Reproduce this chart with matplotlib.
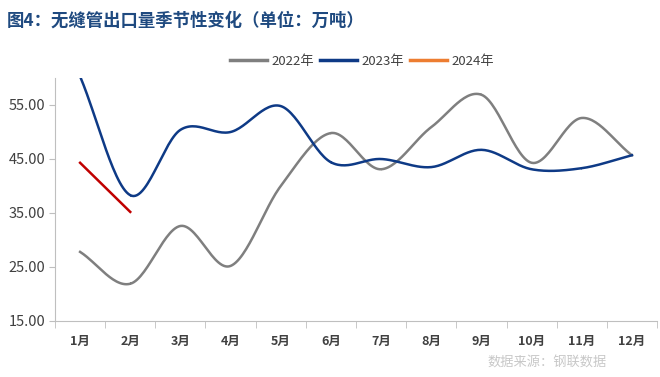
import numpy as np
import matplotlib
matplotlib.use("Agg")
import matplotlib.pyplot as plt
from matplotlib.lines import Line2D

plt.rcParams["font.family"] = ["Noto Sans CJK SC", "DejaVu Sans"]

# data
months = ["1月", "2月", "3月", "4月", "5月", "6月", "7月", "8月", "9月", "10月", "11月", "12月"]
y2022 = [27.8, 21.9, 32.6, 25.2, 40.0, 49.8, 43.1, 50.9, 56.9, 44.3, 52.6, 45.7]
y2023 = [60.3, 38.3, 50.4, 50.0, 54.8, 44.4, 45.0, 43.5, 46.7, 43.1, 43.3, 45.7]
y2024 = [44.3, 35.2]


def smooth(xs, ys, n=30):
    """Catmull-Rom curve through the points, like Excel's smoothed line."""
    xs = np.asarray(xs, float)
    ys = np.asarray(ys, float)
    if len(xs) < 3:
        return xs, ys
    px = np.concatenate([[2 * xs[0] - xs[1]], xs, [2 * xs[-1] - xs[-2]]])
    py = np.concatenate([[2 * ys[0] - ys[1]], ys, [2 * ys[-1] - ys[-2]]])
    t = np.linspace(0, 1, n)
    ox, oy = [], []
    for i in range(1, len(px) - 2):
        for p, out in ((px, ox), (py, oy)):
            p0, p1, p2, p3 = p[i - 1], p[i], p[i + 1], p[i + 2]
            out.extend(0.5 * (2 * p1 + (-p0 + p2) * t
                              + (2 * p0 - 5 * p1 + 4 * p2 - p3) * t ** 2
                              + (-p0 + 3 * p1 - 3 * p2 + p3) * t ** 3))
    return np.array(ox), np.array(oy)


fig = plt.figure(figsize=(6.6, 3.77), dpi=100)
ax = fig.add_axes([55 / 660, 56 / 377, 602 / 660, 243 / 377])

x = np.arange(1, 13)
sx, sy = smooth(x, y2022)
ax.plot(sx, sy, color="#7F7F7F", lw=1.8)
sx, sy = smooth(x, y2023)
ax.plot(sx, sy, color="#0E3A86", lw=1.8)
ax.plot(x[:len(y2024)], y2024, color="#C00000", lw=1.8)

ax.set_xlim(0.5, 12.5)
ax.set_ylim(15, 60)
ax.set_yticks([15, 25, 35, 45, 55])
ax.set_yticklabels([f"{v:.2f}" for v in [15, 25, 35, 45, 55]], fontsize=10.5, color="#404040")
ax.set_xticks(x)
ax.set_xticklabels(months, fontsize=9, fontweight="bold", color="#404040")
ax.set_xticks(np.arange(0.5, 13), minor=True)
ax.tick_params(axis="x", which="major", length=0, pad=10)
ax.tick_params(axis="x", which="minor", length=5, color="#BFBFBF")
ax.tick_params(axis="y", length=4, color="#BFBFBF", pad=3)

for side in ("top", "right"):
    ax.spines[side].set_visible(False)
for side in ("left", "bottom"):
    ax.spines[side].set_color("#BFBFBF")

handles = [Line2D([], [], color="#7F7F7F", lw=2.5),
           Line2D([], [], color="#0E3A86", lw=2.5),
           Line2D([], [], color="#ED7D31", lw=2.5)]
fig.legend(handles, ["2022年", "2023年", "2024年"], loc="center",
           bbox_to_anchor=(362 / 660, 1 - 61 / 377), ncol=3, frameon=False,
           fontsize=9.5, handlelength=2.8, handletextpad=0.3, columnspacing=0.5,
           labelcolor="#404040")

fig.text(7 / 660, 1 - 21 / 377, "图4：无缝管出口量季节性变化（单位：万吨）", fontsize=12.5,
         fontweight="bold", color="#1F4A80", va="center", ha="left")
fig.text(547 / 660, 1 - 363 / 377, "数据来源：钢联数据", fontsize=9.5,
         color="#C8C8C8", va="center", ha="center")

fig.savefig("out.png", dpi=100)
